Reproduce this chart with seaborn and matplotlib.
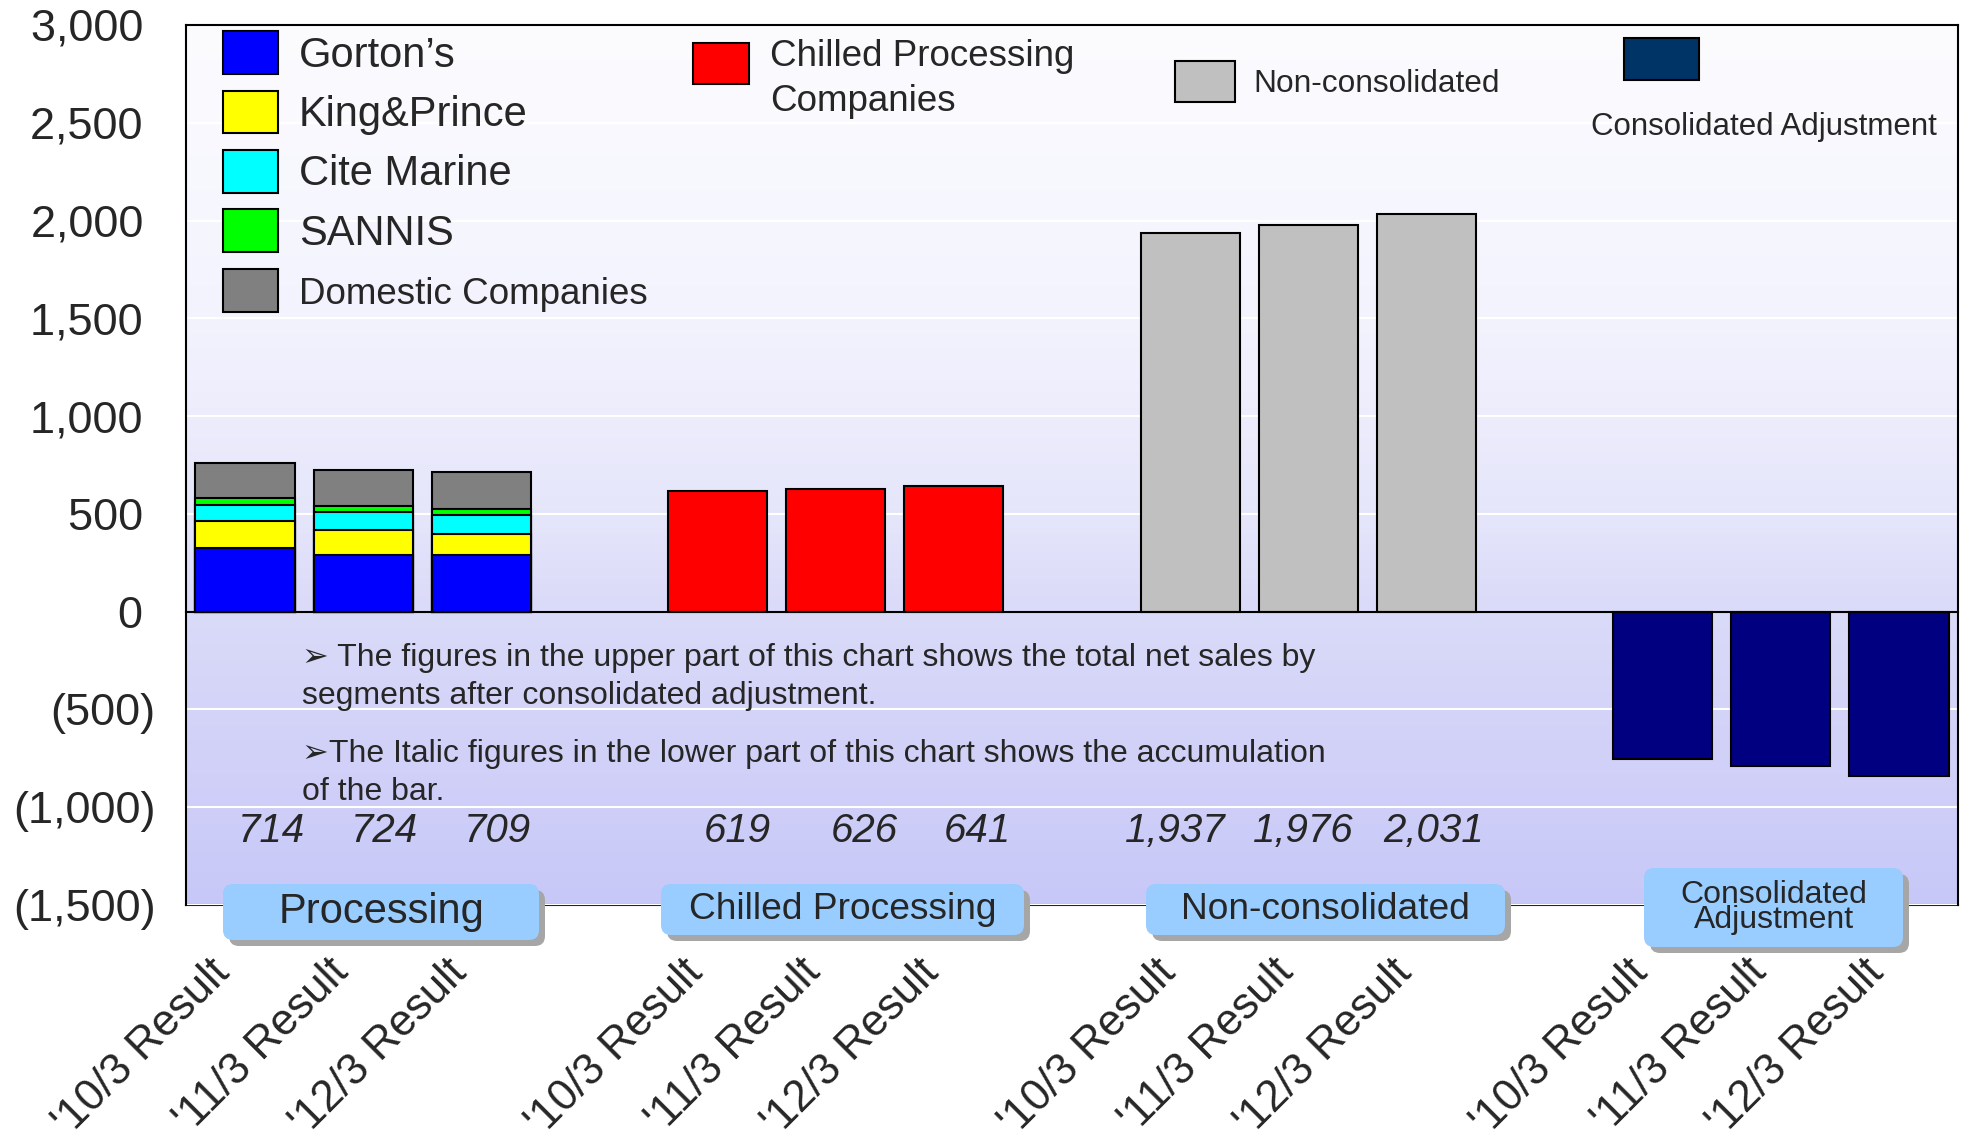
import numpy as np
import pandas as pd
import matplotlib
matplotlib.use("Agg")
import matplotlib.pyplot as plt
from matplotlib.patches import Patch, FancyBboxPatch
from matplotlib.colors import LinearSegmentedColormap
from matplotlib.ticker import FuncFormatter
import seaborn as sns

# Daten
years = ["'10/3 Result", "'11/3 Result", "'12/3 Result"]
groups = ["Processing", "Chilled Processing", "Non-consolidated", "Consolidated\nAdjustment"]

gortons = [325, 289, 289]
king_prince = [138, 131, 107]
cite_marine = [85, 89, 99]
sannis = [34, 32, 32]
domestic = [177, 183, 187]
chilled = [619, 626, 641]
non_consolidated = [1937, 1976, 2031]
consolidated_adj = [-755, -787, -842]

proc_labels = ["714", "724", "709"]
chilled_labels = ["619", "626", "641"]
noncons_labels = ["1,937", "1,976", "2,031"]

# Kategorien mit Lücken zwischen den Gruppen
order = []
for gi in range(4):
    order += [f"g{gi}_{yi}" for yi in range(3)]
    if gi < 3:
        order.append(f"gap{gi}")
pos = {c: i for i, c in enumerate(order)}

def slots(gi):
    return [f"g{gi}_{yi}" for yi in range(3)]

sns.set_style("white")
plt.rcParams['font.family'] = ['Liberation Sans', 'DejaVu Sans']

fig = plt.figure(figsize=(19.66, 11.44), dpi=100)
ax = fig.add_axes([186 / 1966, 1 - 905 / 1144, 1772 / 1966, 880 / 1144])

bar_kw = dict(order=order, width=0.84, edgecolor='black', linewidth=1.5,
              saturation=1, errorbar=None, ax=ax)

# gestapelte Balken: kumulierte Summen von oben nach unten zeichnen
layers = np.cumsum([gortons, king_prince, cite_marine, sannis, domestic], axis=0)
layer_colors = ['#0000ff', '#ffff00', '#00ffff', '#00ff00', '#808080']
for vals, col in reversed(list(zip(layers, layer_colors))):
    sns.barplot(x=slots(0), y=vals, color=col, **bar_kw)

sns.barplot(x=slots(1), y=chilled, color='#ff0000', **bar_kw)
sns.barplot(x=slots(2), y=non_consolidated, color='#c0c0c0', **bar_kw)
sns.barplot(x=slots(3), y=consolidated_adj, color='#000080', **bar_kw)

ax.set_xlim(-0.5, len(order) - 0.5)
ax.set_ylim(-1500, 3000)
ax.set_xlabel('')
ax.set_ylabel('')

# Hintergrundverlauf
ymin, ymax = ax.get_ylim()
bg = LinearSegmentedColormap.from_list(
    'bg', [(0, '#c8c8f8'), (1 / 3, '#dadaf9'), (0.45, '#e6e6fb'),
           (2 / 3, '#f3f3fe'), (1, '#fcfcff')])
grad = np.linspace(0, 1, 256).reshape(-1, 1)
ax.imshow(grad, cmap=bg, origin='lower', aspect='auto',
          extent=[*ax.get_xlim(), ymin, ymax], zorder=-1)
ax.set_xlim(-0.5, len(order) - 0.5)
ax.set_ylim(ymin, ymax)

# y-Achse
ax.set_yticks(np.arange(-1500, 3001, 500))
ax.yaxis.set_major_formatter(FuncFormatter(
    lambda v, p: f"({abs(v):,.0f})" if v < 0 else f"{v:,.0f} "))
ax.tick_params(axis='y', direction='in', length=10, width=1.5,
               labelsize=32.5, pad=22)
ax.set_axisbelow(True)
ax.yaxis.grid(True, color='white', linewidth=1.5)
ax.xaxis.grid(False)

# x-Achse bei 0 mit Teilstrichen zwischen den Kategorien
ax.spines['bottom'].set_position(('data', 0))
for s in ax.spines.values():
    s.set_linewidth(1.5)
    s.set_color('black')
ax.set_xticks([])
ax.set_xticks(np.arange(0.5, len(order) - 1, 1), minor=True)
ax.tick_params(axis='x', which='minor', direction='in', length=13, width=1.5)

sec = ax.secondary_xaxis('bottom')
bar_pos = [pos[c] - 0.18 for gi in range(4) for c in slots(gi)]
sec.set_xticks(bar_pos, labels=years * 4)
sec.tick_params(length=0, pad=44, labelsize=31.5, labelrotation=45)
for lbl in sec.get_xticklabels():
    lbl.set_ha('right')
    lbl.set_va('center')
    lbl.set_rotation_mode('anchor')
sec.spines['bottom'].set_linewidth(1.5)

# Summen (kursiv)
label_offsets = [0.22, 0.18, 0.14, 0.17, 0.24, 0.2, -0.13, -0.04, 0.06]
all_labels = proc_labels + chilled_labels + noncons_labels
label_slots = slots(0) + slots(1) + slots(2)
for c, t, off in zip(label_slots, all_labels, label_offsets):
    ax.text(pos[c] + off, -1120, t, ha='center', va='center',
            fontsize=29, style='italic')

# Legenden
def patch(c):
    return Patch(facecolor=c, edgecolor='black', linewidth=1.5)

leg1 = ax.legend([patch(c) for c in layer_colors],
                 ["Gorton’s", "King&Prince", "Cite Marine", "SANNIS", "Domestic Companies"],
                 loc='upper left', bbox_to_anchor=(0.021, 0.993), frameon=False,
                 fontsize=30, handlelength=1.32, handleheight=1.2,
                 handletextpad=0.5, labelspacing=0.36, borderpad=0, borderaxespad=0)
leg1.get_texts()[4].set_fontsize(26.5)
ax.add_artist(leg1)

leg2 = ax.legend([patch('#ff0000')], ["Chilled Processing\nCompanies"],
                 loc='upper left', bbox_to_anchor=(0.286, 0.984), frameon=False,
                 fontsize=26.5, handlelength=1.54, handleheight=1.35,
                 handletextpad=0.57, borderpad=0, borderaxespad=0)
leg2.get_texts()[0].set_linespacing(1.35)
h2 = leg2.legend_handles[0]
h2.set_y(h2.get_y() + 12)
ax.add_artist(leg2)

leg3 = ax.legend([patch('#c0c0c0')], ["Non-consolidated"],
                 loc='upper left', bbox_to_anchor=(0.558, 0.959), frameon=False,
                 fontsize=22.8, handlelength=1.9, handleheight=1.6,
                 handletextpad=0.57, borderpad=0, borderaxespad=0)
ax.add_artist(leg3)

leg4 = ax.legend([patch('#003366')], [""],
                 loc='upper left', bbox_to_anchor=(0.8115, 0.985), frameon=False,
                 fontsize=22.5, handlelength=2.4, handleheight=1.7,
                 handletextpad=0, borderpad=0, borderaxespad=0)
fig.text(1764 / 1966, 1 - 127 / 1144, "Consolidated Adjustment",
         ha='center', va='center', fontsize=22.5)

# Hinweise
fig.text(302 / 1966, 1 - 677 / 1144,
         "➢ The figures in the upper part of this chart shows the total net sales by\n"
         "segments after consolidated adjustment.",
         ha='left', va='center', fontsize=23, linespacing=1.35)
fig.text(302 / 1966, 1 - 773 / 1144,
         "➢The Italic figures in the lower part of this chart shows the accumulation\n"
         "of the bar.",
         ha='left', va='center', fontsize=23, linespacing=1.35)

# Gruppenbeschriftungen (Kästen mit Schatten), Angaben in Pixel
boxes = [(223, 539, 884, 940, 30), (661, 1024, 884, 935, 26.7),
         (1146, 1505, 884, 935, 26.7), (1644, 1903, 868, 947, 23)]
tr = fig.dpi_scale_trans
for name, (x0, x1, y0, y1, fs) in zip(groups, boxes):
    w, h = (x1 - x0) / 100, (y1 - y0) / 100
    bx, by = x0 / 100, (1144 - y1) / 100
    fig.add_artist(FancyBboxPatch((bx + 0.06, by - 0.06), w, h, transform=tr,
                                  boxstyle='round,pad=0,rounding_size=0.1',
                                  fc='#a6a6a6', ec='none', zorder=5))
    fig.add_artist(FancyBboxPatch((bx, by), w, h, transform=tr,
                                  boxstyle='round,pad=0,rounding_size=0.1',
                                  fc='#99ccff', ec='none', zorder=6))
    fig.text(bx + w / 2, by + h / 2, name, transform=tr, ha='center',
             va='center', fontsize=fs, linespacing=0.8, zorder=7)

fig.savefig('out.png', dpi=100)
